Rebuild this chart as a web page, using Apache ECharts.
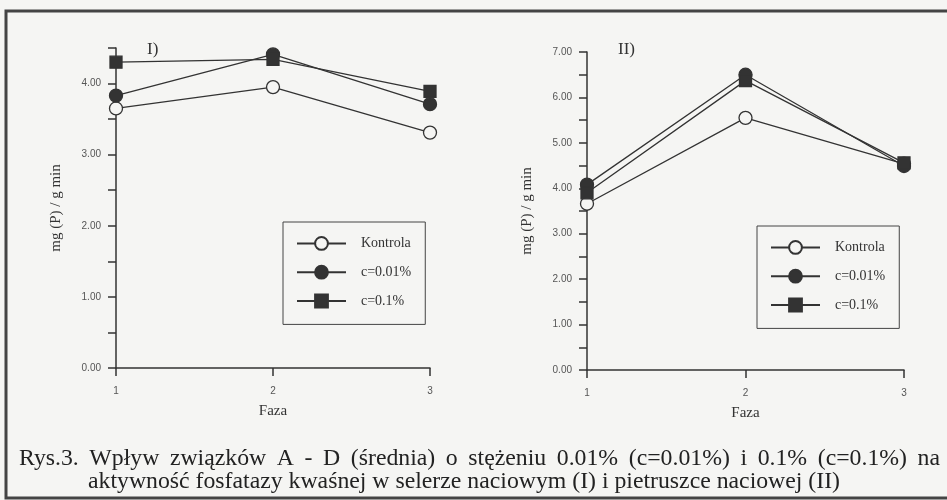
<!DOCTYPE html>
<html>
<head>
<meta charset="utf-8">
<script src="https://cdn.jsdelivr.net/npm/echarts@6/dist/echarts.min.js"></script>
<style>
  html, body { margin: 0; padding: 0; background: #f5f5f3; }
  #main { width: 947px; height: 500px; }
</style>
</head>
<body>
<div id="main"></div>
<script>
/* Rys.3 - aktywnosc fosfatazy kwasnej, dwa panele (I seler, II pietruszka) */
var faza = [1, 2, 3];
var seriesNames = ['Kontrola', 'c=0.01%', 'c=0.1%'];

// panel I - seler naciowy
var kontrolaI = [3.65, 3.95, 3.31];
var c001I = [3.83, 4.41, 3.71];
var c01I = [4.30, 4.34, 3.89];

// panel II - pietruszka naciowa
var kontrolaII = [3.66, 5.55, 4.54];
var c001II = [4.08, 6.50, 4.49];
var c01II = [3.90, 6.37, 4.56];

var captionLine1 = ['Rys.3.', 'Wpływ', 'związków', 'A', '-', 'D', '(średnia)', 'o', 'stężeniu',
    '0.01%', '(c=0.01%)', 'i', '0.1%', '(c=0.1%)', 'na'];
var captionLine2 = 'aktywność fosfatazy kwaśnej w selerze naciowym (I) i pietruszce naciowej (II)';

var ink = '#333';
var serif = "'Liberation Serif', 'DejaVu Serif', serif";
var sans = "'Liberation Sans', Arial, sans-serif";

function pairs(vals) {
    var out = [];
    for (var i = 0; i < faza.length; i++) {
        out.push([faza[i], vals[i]]);
    }
    return out;
}

function xAxisOf(gi) {
    return {
        type: 'value', gridIndex: gi, min: 1, max: 3, interval: 1,
        name: 'Faza', nameLocation: 'middle', nameGap: 36,
        nameTextStyle: { fontFamily: serif, fontSize: 15, color: ink },
        axisLine: { lineStyle: { color: ink, width: 1.5 } },
        axisTick: { length: 8, lineStyle: { color: ink, width: 1.5 } },
        axisLabel: { margin: 18, fontFamily: sans, fontSize: 10, color: '#555' },
        splitLine: { show: false }
    };
}

function yAxisOf(gi, max) {
    return {
        type: 'value', gridIndex: gi, min: 0, max: max, interval: 0.5,
        name: 'mg (P) / g min', nameLocation: 'middle', nameGap: 52,
        nameTextStyle: { fontFamily: serif, fontSize: 15, color: ink },
        axisLine: { show: true, lineStyle: { color: ink, width: 1.5 } },
        axisTick: { length: 8, lineStyle: { color: ink, width: 1.5 } },
        axisLabel: {
            margin: 15, fontFamily: sans, fontSize: 10, color: '#555',
            formatter: function (v) { return v % 1 === 0 ? v.toFixed(2) : ''; }
        },
        splitLine: { show: false }
    };
}

function lineSeries(name, gi, vals, symbol, fill, size) {
    return {
        name: name, type: 'line', xAxisIndex: gi, yAxisIndex: gi,
        data: pairs(vals),
        symbol: symbol, symbolSize: size, showAllSymbol: true,
        lineStyle: { color: ink, width: 1.3 },
        itemStyle: { color: fill, borderColor: ink, borderWidth: 1.3 },
        emphasis: { disabled: true },
        animation: false
    };
}

function legendOf(left, top) {
    return {
        left: left, top: top, orient: 'vertical',
        data: seriesNames,
        itemWidth: 49, itemHeight: 16, itemGap: 14,
        padding: [14, 14, 16, 13],
        borderColor: '#444', borderWidth: 1,
        selectedMode: false,
        textStyle: { fontFamily: serif, fontSize: 14, color: ink, padding: [0, 0, 0, 10] }
    };
}

// podpis - mierzymy szerokosc tekstu w canvasie, zeby dopasowac do skanu
var capFont = '24px ' + serif;
var ctx = document.createElement('canvas').getContext('2d');
ctx.font = capFont;
var line2W = ctx.measureText(captionLine2).width;
var capScale = 752 / line2W;

function captionGraphics() {
    var g = [];
    // linia 1 wyjustowana od x=19 do x=940
    var widths = captionLine1.map(function (w) { return ctx.measureText(w).width * capScale; });
    var total = widths.reduce(function (a, b) { return a + b; }, 0);
    var gap = (940 - 19 - total) / (captionLine1.length - 1);
    var x = 19;
    for (var i = 0; i < captionLine1.length; i++) {
        g.push({
            type: 'text', x: x, y: 459, scaleX: capScale, silent: true,
            style: { text: captionLine1[i], font: capFont, fill: '#222', align: 'left', verticalAlign: 'middle' }
        });
        x += widths[i] + gap;
    }
    g.push({
        type: 'text', x: 88, y: 482, scaleX: capScale, silent: true,
        style: { text: captionLine2, font: capFont, fill: '#222', align: 'left', verticalAlign: 'middle' }
    });
    return g;
}

var myChart = echarts.init(document.getElementById('main'), null, { renderer: 'canvas' });
myChart.setOption({
    backgroundColor: '#f5f5f3',
    animation: false,
    grid: [
        { left: 116, top: 48, width: 314, height: 320 },
        { left: 587, top: 52, width: 317, height: 318 }
    ],
    xAxis: [xAxisOf(0), xAxisOf(1)],
    yAxis: [yAxisOf(0, 4.5), yAxisOf(1, 7)],
    legend: [legendOf(283, 222), legendOf(757, 226)],
    series: [
        lineSeries('Kontrola', 0, kontrolaI, 'circle', '#f5f5f3', 13),
        lineSeries('c=0.01%', 0, c001I, 'circle', ink, 13),
        lineSeries('c=0.1%', 0, c01I, 'rect', ink, 12),
        lineSeries('Kontrola', 1, kontrolaII, 'circle', '#f5f5f3', 13),
        lineSeries('c=0.01%', 1, c001II, 'circle', ink, 13),
        lineSeries('c=0.1%', 1, c01II, 'rect', ink, 12)
    ],
    graphic: [
        // ramka skanu (gora, lewa, dol)
        { type: 'polyline', silent: true, shape: { points: [[947, 11], [6, 11], [6, 498], [947, 498]] },
          style: { stroke: '#444', lineWidth: 3, fill: null } },
        { type: 'text', x: 147, y: 50, silent: true,
          style: { text: 'I)', font: '17px ' + serif, fill: ink, verticalAlign: 'middle' } },
        { type: 'text', x: 618, y: 50, silent: true,
          style: { text: 'II)', font: '17px ' + serif, fill: ink, verticalAlign: 'middle' } }
    ].concat(captionGraphics())
});
</script>
</body>
</html>
